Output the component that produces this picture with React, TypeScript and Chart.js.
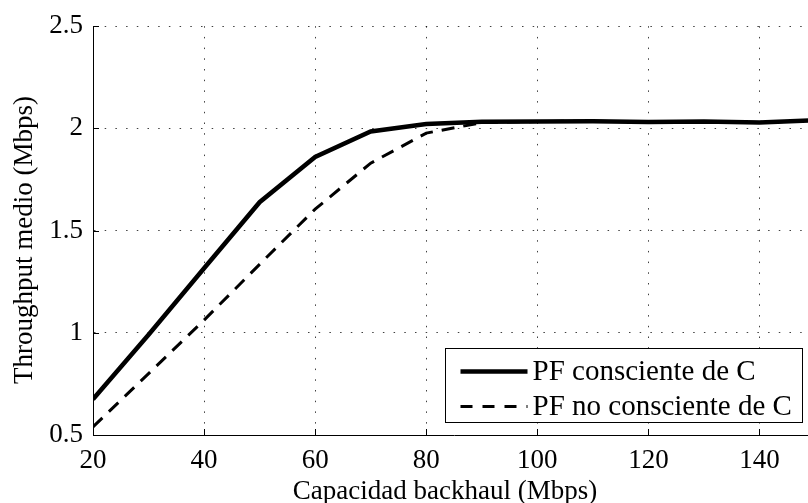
import React, { useEffect, useRef } from "react";
import { Chart, registerables } from "chart.js";

Chart.register(...registerables);

// Backhaul capacity (Mbps) on the x axis
const capacities = [20, 30, 40, 50, 60, 70, 80, 90, 100, 110, 120, 130, 140, 150];
// Mean throughput (Mbps), capacity-aware PF
const pfAware = [0.675, 0.99, 1.316, 1.639, 1.86, 1.985, 2.022, 2.032, 2.034, 2.035, 2.031, 2.034, 2.029, 2.04];
// Mean throughput (Mbps), capacity-unaware PF
const pfUnaware = [0.54, 0.8, 1.062, 1.335, 1.605, 1.83, 1.977, 2.028, 2.034, 2.035, 2.031, 2.034, 2.029, 2.04];

const xTicks = [20, 40, 60, 80, 100, 120, 140];
const yTicks = [0.5, 1, 1.5, 2, 2.5];
const yTickLabels = ["0.5", "1", "1.5", "2", "2.5"];

const seriesLabels = ["PF consciente de C", "PF no consciente de C"];
const xTitle = "Capacidad backhaul (Mbps)";
const yTitle = "Throughput medio (Mbps)";

const FONT = "'Liberation Serif', 'Times New Roman', serif";

// Short tick marks drawn inward from the left and bottom axes
const innerTicks = {
  id: "innerTicks",
  afterDatasetsDraw(chart: any) {
    const { ctx, chartArea, scales } = chart;
    ctx.save();
    ctx.strokeStyle = "#000";
    ctx.lineWidth = 1;
    ctx.beginPath();
    xTicks.forEach((v) => {
      const x = Math.round(scales.x.getPixelForValue(v)) + 0.5;
      ctx.moveTo(x, chartArea.bottom);
      ctx.lineTo(x, chartArea.bottom - 6);
    });
    yTicks.forEach((v) => {
      const y = Math.round(scales.y.getPixelForValue(v)) + 0.5;
      ctx.moveTo(chartArea.left, y);
      ctx.lineTo(chartArea.left + 6, y);
    });
    ctx.stroke();
    ctx.restore();
  },
};

// Axis titles
const axisTitles = {
  id: "axisTitles",
  afterDraw(chart: any) {
    const { ctx } = chart;
    ctx.save();
    ctx.fillStyle = "#000";
    ctx.font = `27px ${FONT}`;
    ctx.textAlign = "center";
    ctx.textBaseline = "middle";
    ctx.fillText(xTitle, 445, 492);
    ctx.translate(25, 240);
    ctx.rotate(-Math.PI / 2);
    ctx.fillText(yTitle, 0, 0);
    ctx.restore();
  },
};

// Boxed legend in the lower right of the plot
const boxLegend = {
  id: "boxLegend",
  afterDraw(chart: any) {
    const { ctx } = chart;
    const left = 445.5, top = 348.5, w = 357, h = 74;
    ctx.save();
    ctx.fillStyle = "#fff";
    ctx.fillRect(left, top, w, h);
    ctx.strokeStyle = "#000";
    ctx.lineWidth = 1;
    ctx.strokeRect(left, top, w, h);
    ctx.font = `29px ${FONT}`;
    ctx.textBaseline = "middle";
    ctx.fillStyle = "#000";
    chart.data.datasets.forEach((ds: any, i: number) => {
      const y = top + 23 + i * 35;
      ctx.beginPath();
      ctx.lineWidth = ds.borderWidth;
      ctx.setLineDash(i === 0 ? [] : [12, 10]);
      ctx.moveTo(left + 15, y);
      ctx.lineTo(left + 82, y);
      ctx.stroke();
      ctx.setLineDash([]);
      ctx.fillText(ds.label, left + 87, y + 1);
    });
    ctx.restore();
  },
};

export default function App() {
  const canvasRef = useRef<HTMLCanvasElement | null>(null);

  useEffect(() => {
    const canvas = canvasRef.current;
    if (!canvas) return;
    const gridColor = (ctx: any) => (ctx.index === 0 ? "rgba(0,0,0,0)" : "rgba(0,0,0,0.75)");
    const chart = new Chart(canvas, {
      type: "line",
      data: {
        labels: capacities,
        datasets: [
          {
            label: seriesLabels[0],
            data: capacities.map((c, i) => ({ x: c, y: pfAware[i] })),
            borderColor: "#000",
            borderWidth: 4.5,
            pointRadius: 0,
            fill: false,
            tension: 0,
          },
          {
            label: seriesLabels[1],
            data: capacities.map((c, i) => ({ x: c, y: pfUnaware[i] })),
            borderColor: "#000",
            borderWidth: 3,
            borderDash: [13, 9],
            pointRadius: 0,
            fill: false,
            tension: 0,
          },
        ],
      },
      options: {
        animation: false,
        responsive: false,
        maintainAspectRatio: false,
        layout: { padding: { top: 25, right: 0, left: 0, bottom: 0 } },
        plugins: {
          legend: { display: false },
          tooltip: { enabled: false },
        },
        scales: {
          x: {
            type: "linear",
            min: 20,
            max: 150,
            afterBuildTicks: (scale: any) => {
              scale.ticks = xTicks.map((v) => ({ value: v }));
            },
            afterFit: (scale: any) => {
              scale.height = 68;
            },
            ticks: {
              color: "#000",
              font: { family: FONT, size: 27 },
              padding: 10,
              maxRotation: 0,
              autoSkip: false,
            },
            grid: {
              color: gridColor,
              lineWidth: 1,
              drawTicks: false,
            },
            border: { display: true, color: "#000", width: 1, dash: [1.5, 9.2] },
            title: { display: false },
          },
          y: {
            type: "linear",
            min: 0.5,
            max: 2.5,
            afterBuildTicks: (scale: any) => {
              scale.ticks = yTicks.map((v) => ({ value: v }));
            },
            afterFit: (scale: any) => {
              scale.width = 93;
            },
            ticks: {
              color: "#000",
              font: { family: FONT, size: 27 },
              padding: 10,
              callback: (v: any) => {
                const i = yTicks.indexOf(Number(v));
                return i >= 0 ? yTickLabels[i] : "";
              },
            },
            grid: {
              color: gridColor,
              lineWidth: 1,
              drawTicks: false,
            },
            border: { display: true, color: "#000", width: 1, dash: [1.5, 9.2] },
            title: { display: false },
          },
        },
      },
      plugins: [innerTicks, axisTitles, boxLegend],
    });
    return () => chart.destroy();
  }, []);

  return (
    <div
      style={{
        position: "fixed",
        left: 0,
        top: 0,
        width: 808,
        height: 503,
        overflow: "hidden",
        background: "#fff",
      }}
    >
      <canvas ref={canvasRef} width={815} height={503} style={{ display: "block" }} />
    </div>
  );
}
